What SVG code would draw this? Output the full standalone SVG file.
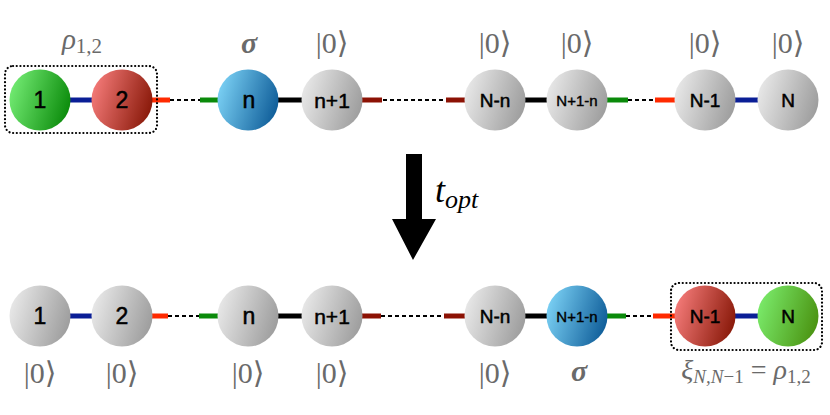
<svg xmlns="http://www.w3.org/2000/svg" width="830" height="415" viewBox="0 0 830 415">
<defs>
<linearGradient id="gGray" x1="0" y1="0.35" x2="1" y2="0.65"><stop offset="0" stop-color="#e8e8e8"/><stop offset="1" stop-color="#9c9c9c"/></linearGradient>
<linearGradient id="gGreen" x1="0" y1="0.35" x2="1" y2="0.65"><stop offset="0" stop-color="#72ea72"/><stop offset="1" stop-color="#0a8a0a"/></linearGradient>
<linearGradient id="gGreen2" x1="0" y1="0.35" x2="1" y2="0.65"><stop offset="0" stop-color="#7aea6a"/><stop offset="1" stop-color="#4a9210"/></linearGradient>
<linearGradient id="gRed" x1="0" y1="0.35" x2="1" y2="0.65"><stop offset="0" stop-color="#f47a78"/><stop offset="1" stop-color="#881808"/></linearGradient>
<linearGradient id="gBlue" x1="0" y1="0.35" x2="1" y2="0.65"><stop offset="0" stop-color="#7ad0f4"/><stop offset="1" stop-color="#0e5c98"/></linearGradient>
</defs>
<style>
.nl{font-family:"Liberation Sans",Arial,sans-serif;font-size:19px;fill:#000;stroke:#000;stroke-width:0.5;text-anchor:middle}
.nb{font-size:23px}
.nm{font-size:21px}
.ns{font-size:15px;stroke-width:0.4}
.lab{font-family:"Liberation Serif","DejaVu Serif",serif;fill:#6a6a6a;text-anchor:middle}
.ket{font-size:30px}
.sig{font-style:italic;font-size:30px;font-weight:bold}
.blue{stroke:#0a1e96;stroke-width:5}
.red{stroke:#ff2a00;stroke-width:5}
.dred{stroke:#8c1204;stroke-width:5}
.grn{stroke:#0a8a0a;stroke-width:5}
.blk{stroke:#000;stroke-width:5}
.dash{stroke:#000;stroke-width:2;stroke-dasharray:4 3}
.box{fill:none;stroke:#000;stroke-width:2.2;stroke-dasharray:0.1 3.6;stroke-linecap:round}
</style>

<g id="connectors">
<line class="blue" x1="70" y1="100" x2="92" y2="100"/>
<line class="red" x1="152" y1="100" x2="170" y2="100"/>
<line class="dash" x1="170" y1="100" x2="200" y2="100"/>
<line class="grn" x1="200" y1="100" x2="218" y2="100"/>
<line class="blk" x1="278" y1="100" x2="302" y2="100"/>
<line class="dred" x1="362" y1="100" x2="382" y2="100"/>
<line class="dash" x1="383" y1="100" x2="446" y2="100"/>
<line class="dred" x1="446" y1="100" x2="465" y2="100"/>
<line class="blk" x1="525" y1="100" x2="547" y2="100"/>
<line class="grn" x1="607" y1="100" x2="628" y2="100"/>
<line class="dash" x1="628" y1="100" x2="655" y2="100"/>
<line class="red" x1="655" y1="100" x2="675" y2="100"/>
<line class="blue" x1="735" y1="100" x2="758" y2="100"/>
<line class="blue" x1="70" y1="316" x2="92" y2="316"/>
<line class="red" x1="152" y1="316" x2="168" y2="316"/>
<line class="dash" x1="168" y1="316" x2="199" y2="316"/>
<line class="grn" x1="199" y1="316" x2="218" y2="316"/>
<line class="blk" x1="278" y1="316" x2="302" y2="316"/>
<line class="dred" x1="362" y1="316" x2="381" y2="316"/>
<line class="dash" x1="381" y1="316" x2="444" y2="316"/>
<line class="dred" x1="444" y1="316" x2="465" y2="316"/>
<line class="blk" x1="525" y1="316" x2="547" y2="316"/>
<line class="grn" x1="607" y1="316" x2="626" y2="316"/>
<line class="dash" x1="626" y1="316" x2="653" y2="316"/>
<line class="red" x1="653" y1="316" x2="675" y2="316"/>
<line class="blue" x1="735" y1="316" x2="758" y2="316"/>
</g>

<g id="t1"><circle cx="40" cy="100" r="30.5" fill="url(#gGreen)"/><text class="nl nb" x="40" y="108">1</text></g>
<g id="t2"><circle cx="122" cy="100" r="30.5" fill="url(#gRed)"/><text class="nl nb" x="122" y="108">2</text></g>
<g id="tn"><circle cx="248" cy="100" r="30.5" fill="url(#gBlue)"/><text class="nl nb" x="249" y="108">n</text></g>
<g id="tn1"><circle cx="332" cy="100" r="30.5" fill="url(#gGray)"/><text class="nl nm" x="332" y="107.5">n+1</text></g>
<g id="tNn"><circle cx="495" cy="100" r="30.5" fill="url(#gGray)"/><text class="nl" x="495" y="107">N-n</text></g>
<g id="tN1n"><circle cx="577" cy="100" r="30.5" fill="url(#gGray)"/><text class="nl ns" x="577" y="105.5">N+1-n</text></g>
<g id="tNm1"><circle cx="705" cy="100" r="30.5" fill="url(#gGray)"/><text class="nl" x="705" y="107">N-1</text></g>
<g id="tN"><circle cx="788" cy="100" r="30.5" fill="url(#gGray)"/><text class="nl" x="788" y="107">N</text></g>
<g id="topbox"><rect class="box" x="5" y="66" width="152" height="67" rx="8"/></g>

<g id="toplabels">
<text class="lab" x="82" y="49"><tspan font-style="italic" font-size="29">ρ</tspan><tspan font-size="21" dy="4">1,2</tspan></text>
<text class="lab sig" x="249" y="53">σ</text>
<text class="lab ket" x="332" y="53">|0⟩</text>
<text class="lab ket" x="495" y="53">|0⟩</text>
<text class="lab ket" x="577" y="53">|0⟩</text>
<text class="lab ket" x="705" y="53">|0⟩</text>
<text class="lab ket" x="788" y="53">|0⟩</text>
</g>

<g id="arrow">
<polygon points="406,154 422,154 422,219 436,219 413,260 392,219 406,219" fill="#000"/>
<text x="435" y="202" font-family="Liberation Serif,serif" font-style="italic" fill="#000"><tspan font-size="36">t</tspan><tspan font-size="26" dy="6">opt</tspan></text>
</g>

<g id="b1"><circle cx="40" cy="316" r="30.5" fill="url(#gGray)"/><text class="nl nb" x="40" y="324">1</text></g>
<g id="b2"><circle cx="122" cy="316" r="30.5" fill="url(#gGray)"/><text class="nl nb" x="122" y="324">2</text></g>
<g id="bn"><circle cx="248" cy="316" r="30.5" fill="url(#gGray)"/><text class="nl nb" x="249" y="324">n</text></g>
<g id="bn1"><circle cx="332" cy="316" r="30.5" fill="url(#gGray)"/><text class="nl nm" x="332" y="323.5">n+1</text></g>
<g id="bNn"><circle cx="495" cy="316" r="30.5" fill="url(#gGray)"/><text class="nl" x="495" y="323">N-n</text></g>
<g id="bN1n"><circle cx="577" cy="316" r="30.5" fill="url(#gBlue)"/><text class="nl ns" x="577" y="321.5">N+1-n</text></g>
<g id="bNm1"><circle cx="705" cy="316" r="30.5" fill="url(#gRed)"/><text class="nl" x="705" y="323">N-1</text></g>
<g id="bN"><circle cx="788" cy="316" r="30.5" fill="url(#gGreen2)"/><text class="nl" x="788" y="323">N</text></g>
<g id="botbox"><rect class="box" x="671" y="283" width="151" height="67" rx="8"/></g>

<g id="botlabels">
<text class="lab ket" x="40" y="383">|0⟩</text>
<text class="lab ket" x="122" y="383">|0⟩</text>
<text class="lab ket" x="248" y="383">|0⟩</text>
<text class="lab ket" x="332" y="383">|0⟩</text>
<text class="lab ket" x="495" y="383">|0⟩</text>
<text class="lab sig" x="579" y="381">σ</text>
<text class="lab" x="746" y="379"><tspan font-style="italic" font-size="28">ξ</tspan><tspan font-style="italic" font-size="19" dy="4">N,N</tspan><tspan font-size="19">−1</tspan><tspan font-size="28" dy="-4"> = </tspan><tspan font-style="italic" font-size="28">ρ</tspan><tspan font-size="19" dy="4">1,2</tspan></text>
</g>
</svg>
